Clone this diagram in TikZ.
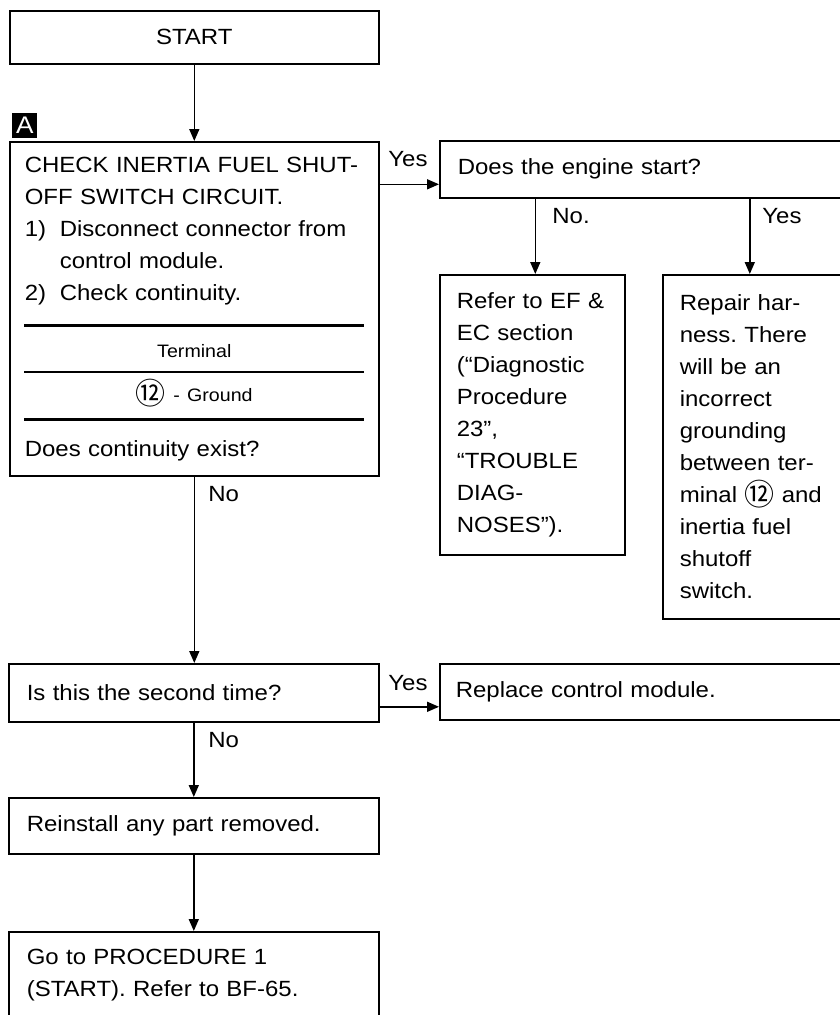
\documentclass[tikz,border=0pt]{standalone}
\usepackage{fontspec}
\setmainfont[FakeStretch=1.09]{Liberation Sans}
\newfontfamily\cjkfont{Noto Sans CJK JP}
\usetikzlibrary{arrows.meta,positioning}
\frenchspacing

% circled terminal number
\newcommand{\termno}[1]{\raisebox{-3pt}{\cjkfont\fontsize{30}{30}\selectfont #1}}

\tikzset{
  box/.style={draw, line width=1.6pt, rectangle, anchor=north west,
    inner xsep=17pt, inner ysep=0pt, align=left,
    font=\fontsize{22}{32}\selectfont},
  arr/.style={line width=1.6pt, -{Triangle[length=12pt,width=10pt]}},
  lbl/.style={anchor=base west, inner sep=0pt, font=\fontsize{22}{32}\selectfont},
  tagbox/.style={fill=black, text=white, inner sep=0pt, minimum size=25pt,
    anchor=south west, font=\fontsize{24}{24}\selectfont},
}

\begin{document}
\begin{tikzpicture}[x=1pt, y=-1pt, thick]

                \useasboundingbox (0,0) rectangle (840,1015);
                \clip (0,0) rectangle (840,1015);

                % ==========================================
                % LEFT COLUMN: Start and circuit check
                % ==========================================

                \node[box, align=center, text width=335pt, minimum width=369pt, minimum height=53pt] (start) at (9,10) {START};

                % Box tag above the check box
                \node[tagbox] (tagA) at (12,138) {A};

                \node[box, inner xsep=15pt, text width=339pt, minimum width=369pt, minimum height=334pt] (chk) at (9,141)
                  {CHECK INERTIA FUEL SHUT-\\
                   OFF SWITCH CIRCUIT.\\
                   \makebox[35pt][l]{1)}Disconnect connector from\\
                   \hspace*{35pt}control module.\\
                   \makebox[35pt][l]{2)}Check continuity.\\[25pt]
                   \makebox[\hsize]{\fontsize{18}{32}\selectfont Terminal}\\[12pt]
                   \makebox[\hsize]{\fontsize{18}{32}\selectfont\termno{⑫} - Ground}\\[23pt]
                   Does continuity exist?};

                % Table rules inside the check box
                \coordinate (R1a) at (24,325);  % upper thick rule
                \coordinate (R1b) at (364,325);
                \coordinate (R2a) at (24,372);  % thin rule under heading
                \coordinate (R2b) at (364,372);
                \coordinate (R3a) at (24,419);  % lower thick rule
                \coordinate (R3b) at (364,419);
                \draw[line width=3pt] (R1a) -- (R1b);
                \draw[line width=1.2pt] (R2a) -- (R2b);
                \draw[line width=3pt] (R3a) -- (R3b);

                % ==========================================
                % RIGHT SIDE: Engine start check
                % ==========================================

                \node[box, inner xsep=18pt, text width=385pt, minimum width=421pt, minimum height=57pt] (engine) at (439,140)
                  {Does the engine start?};

                \node[box, text width=151pt, minimum width=185pt, minimum height=280pt] (refer) at (439,274)
                  {Refer to EF \&\\
                   EC section\\
                   (“Diagnostic\\
                   Procedure\\
                   23”,\\
                   “TROUBLE\\
                   DIAG-\\
                   NOSES”).};

                \node[box, text width=166pt, minimum width=200pt, minimum height=344pt] (repair) at (662,274)
                  {Repair har-\\
                   ness. There\\
                   will be an\\
                   incorrect\\
                   grounding\\
                   between ter-\\
                   minal \termno{⑫} and\\
                   inertia fuel\\
                   shutoff\\
                   switch.};

                % ==========================================
                % LOWER PART: Repeat check and return
                % ==========================================

                \node[box, inner xsep=18pt, text width=334pt, minimum width=370pt, minimum height=58pt] (second) at (8,663)
                  {Is this the second time?};
                \node[box, inner xsep=16pt, text width=389pt, minimum width=421pt, minimum height=56pt] (replace) at (439,663)
                  {Replace control module.};
                \node[box, inner xsep=18pt, text width=334pt, minimum width=370pt, minimum height=56pt] (reinstall) at (8,797)
                  {Reinstall any part removed.};
                \node[box, inner xsep=18pt, text width=334pt, minimum width=370pt, minimum height=87pt] (goto) at (8,931)
                  {Go to PROCEDURE 1\\
                   (START). Refer to BF-65.};

                % ==========================================
                % Connectors
                % ==========================================

                \draw[arr] (start.south) -- (chk.north);
                \draw[arr] ([yshift=-15pt]engine.west -| chk.east) -- ([yshift=-15pt]engine.west);
                \draw[arr] ([xshift=3pt]refer.north |- engine.south) -- ([xshift=3pt]refer.north);
                \draw[arr] ([xshift=-13pt]repair.north |- engine.south) -- ([xshift=-13pt]repair.north);
                \draw[arr] (chk.south) -- (chk.south |- second.north);
                \draw[arr] ([yshift=-15pt]replace.west -| second.east) -- ([yshift=-15pt]replace.west);
                \draw[arr] (second.south) -- (reinstall.north);
                \draw[arr] (reinstall.south) -- (goto.north);

                % Answer labels
                \node[lbl] (yesA) at (388,166) {Yes};
                \node[lbl] (noB)  at (552,223) {No.};
                \node[lbl] (yesB) at (762,223) {Yes};
                \node[lbl] (noA)  at (208,501) {No};
                \node[lbl] (yesE) at (388,690) {Yes};
                \node[lbl] (noE)  at (208,747) {No};

            \end{tikzpicture}
\end{document}
